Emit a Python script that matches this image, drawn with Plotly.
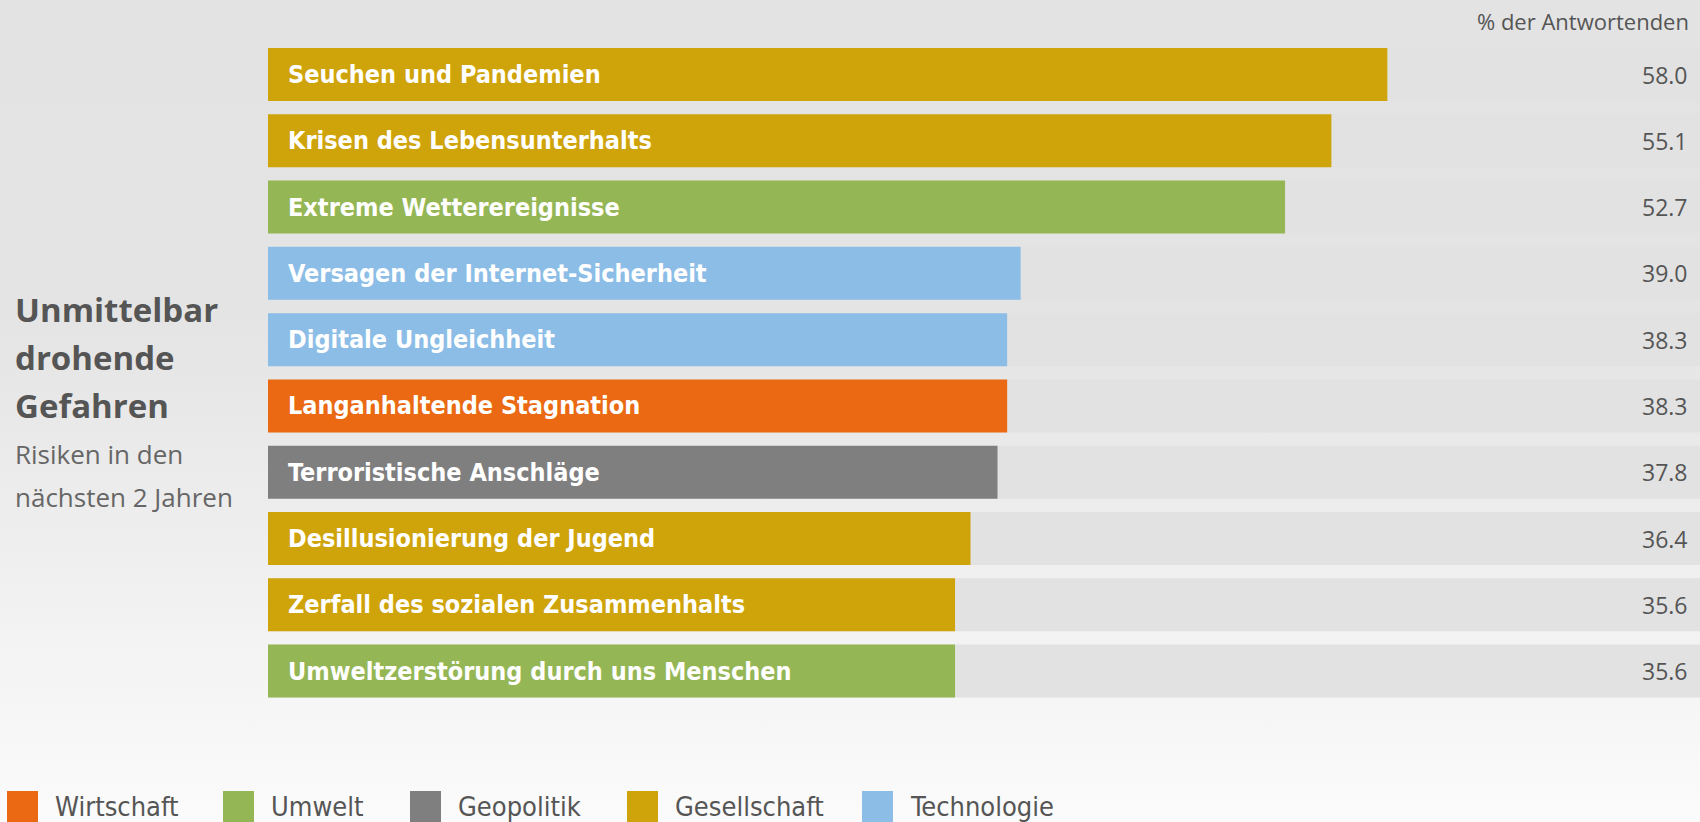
import base64
import plotly.graph_objects as go

# ---------------- data ----------------
risks = [
    "Seuchen und Pandemien",
    "Krisen des Lebensunterhalts",
    "Extreme Wetterereignisse",
    "Versagen der Internet-Sicherheit",
    "Digitale Ungleichheit",
    "Langanhaltende Stagnation",
    "Terroristische Anschläge",
    "Desillusionierung der Jugend",
    "Zerfall des sozialen Zusammenhalts",
    "Umweltzerstörung durch uns Menschen",
]
values = [58.0, 55.1, 52.7, 39.0, 38.3, 38.3, 37.8, 36.4, 35.6, 35.6]
risk_category = [
    "Gesellschaft", "Gesellschaft", "Umwelt", "Technologie", "Technologie",
    "Wirtschaft", "Geopolitik", "Gesellschaft", "Gesellschaft", "Umwelt",
]
legend_categories = ["Wirtschaft", "Umwelt", "Geopolitik", "Gesellschaft", "Technologie"]
category_colors = {
    "Wirtschaft": "#ea6912",
    "Umwelt": "#95b654",
    "Geopolitik": "#7f7f7f",
    "Gesellschaft": "#cfa30a",
    "Technologie": "#8bbde6",
}
unit_label = "% der Antwortenden"
title_lines = ["Unmittelbar", "drohende", "Gefahren"]
subtitle_lines = ["Risiken in den", "nächsten 2 Jahren"]

# ---------------- layout constants ----------------
W, H = 1700, 822
X_MAX = 74.2
TRACK_COLOR = "#e2e2e2"
LABEL_FONT = "DejaVu Sans Condensed, Liberation Sans Narrow, DejaVu Sans, sans-serif"
TEXT_FONT = "Open Sans, Noto Sans, sans-serif"

fig = go.Figure()

# background tracks
fig.add_trace(go.Bar(
    y=risks, x=[X_MAX] * len(risks), orientation="h",
    marker=dict(color=TRACK_COLOR, line=dict(width=0)),
    hoverinfo="skip", showlegend=False,
))
# value bars
fig.add_trace(go.Bar(
    y=risks, x=values, orientation="h",
    marker=dict(color=[category_colors[c] for c in risk_category], line=dict(width=0)),
    showlegend=False,
))

annotations = []
for r, v in zip(risks, values):
    annotations.append(dict(
        x=0, y=r, xref="x", yref="y", xanchor="left", yanchor="middle",
        xshift=18, text=r, showarrow=False,
        font=dict(family=LABEL_FONT, size=25, color="white", weight="bold"),
    ))
    annotations.append(dict(
        x=1, y=r, xref="paper", yref="y", xanchor="right", yanchor="middle",
        xshift=-10, text=f"{v:.1f}", showarrow=False,
        font=dict(family=TEXT_FONT, size=23, color="#555555"),
    ))

annotations.append(dict(
    x=1, y=1 - 21 / H, xref="paper", yref="paper", xanchor="right", yanchor="middle",
    xshift=-9, text=unit_label, showarrow=False,
    font=dict(family=TEXT_FONT, size=22, color="#555555"),
))

for i, line in enumerate(title_lines):
    cy = 309 + i * 48
    annotations.append(dict(
        x=13 / W, y=1 - cy / H, xref="paper", yref="paper", xanchor="left", yanchor="middle",
        text=line, showarrow=False,
        font=dict(family=TEXT_FONT, size=33, color="#555555", weight="bold"),
    ))
for i, line in enumerate(subtitle_lines):
    cy = 454 + i * 43
    annotations.append(dict(
        x=13 / W, y=1 - cy / H, xref="paper", yref="paper", xanchor="left", yanchor="middle",
        text=line, showarrow=False,
        font=dict(family=TEXT_FONT, size=26, color="#666666"),
    ))

# legend (custom, large swatches)
legend_sq_x = [7, 223, 410, 627, 862]
shapes = []
for name, x0 in zip(legend_categories, legend_sq_x):
    shapes.append(dict(
        type="rect", xref="paper", yref="paper",
        x0=x0 / W, x1=(x0 + 31) / W, y0=0, y1=1 - 791 / H,
        fillcolor=category_colors[name], line=dict(width=0), layer="above",
    ))
    annotations.append(dict(
        x=(x0 + 46) / W, y=1 - 806 / H, xref="paper", yref="paper",
        xanchor="left", yanchor="middle", text=name, showarrow=False,
        font=dict(family=LABEL_FONT, size=27, color="#555555"),
    ))

# gradient background as an SVG image
svg = (
    f'<svg xmlns="http://www.w3.org/2000/svg" width="{W}" height="{H}">'
    '<defs><linearGradient id="g" x1="0" y1="0" x2="0" y2="1">'
    '<stop offset="0" stop-color="#e3e3e3"/>'
    '<stop offset="0.38" stop-color="#e4e4e4"/>'
    '<stop offset="1" stop-color="#fbfbfb"/>'
    '</linearGradient></defs>'
    f'<rect width="{W}" height="{H}" fill="url(#g)"/></svg>'
)
svg_uri = "data:image/svg+xml;base64," + base64.b64encode(svg.encode()).decode()

fig.update_layout(
    width=W, height=H,
    margin=dict(l=0, r=0, t=0, b=0),
    paper_bgcolor="#e9e9e9",
    plot_bgcolor="rgba(0,0,0,0)",
    barmode="overlay",
    bargap=0.2,
    showlegend=False,
    xaxis=dict(domain=[268 / W, 1], range=[0, X_MAX], visible=False, fixedrange=True),
    yaxis=dict(range=[11.277, -1.124], visible=False, fixedrange=True,
               categoryorder="array", categoryarray=risks),
    annotations=annotations,
    shapes=shapes,
    images=[dict(
        source=svg_uri, xref="paper", yref="paper", x=0, y=1,
        sizex=1, sizey=1, sizing="stretch", xanchor="left", yanchor="top",
        layer="below",
    )],
)

fig.write_html(
    "out.html",
    config=dict(displayModeBar=False),
    post_script="document.body.style.margin='0';document.body.style.overflow='hidden';",
)
